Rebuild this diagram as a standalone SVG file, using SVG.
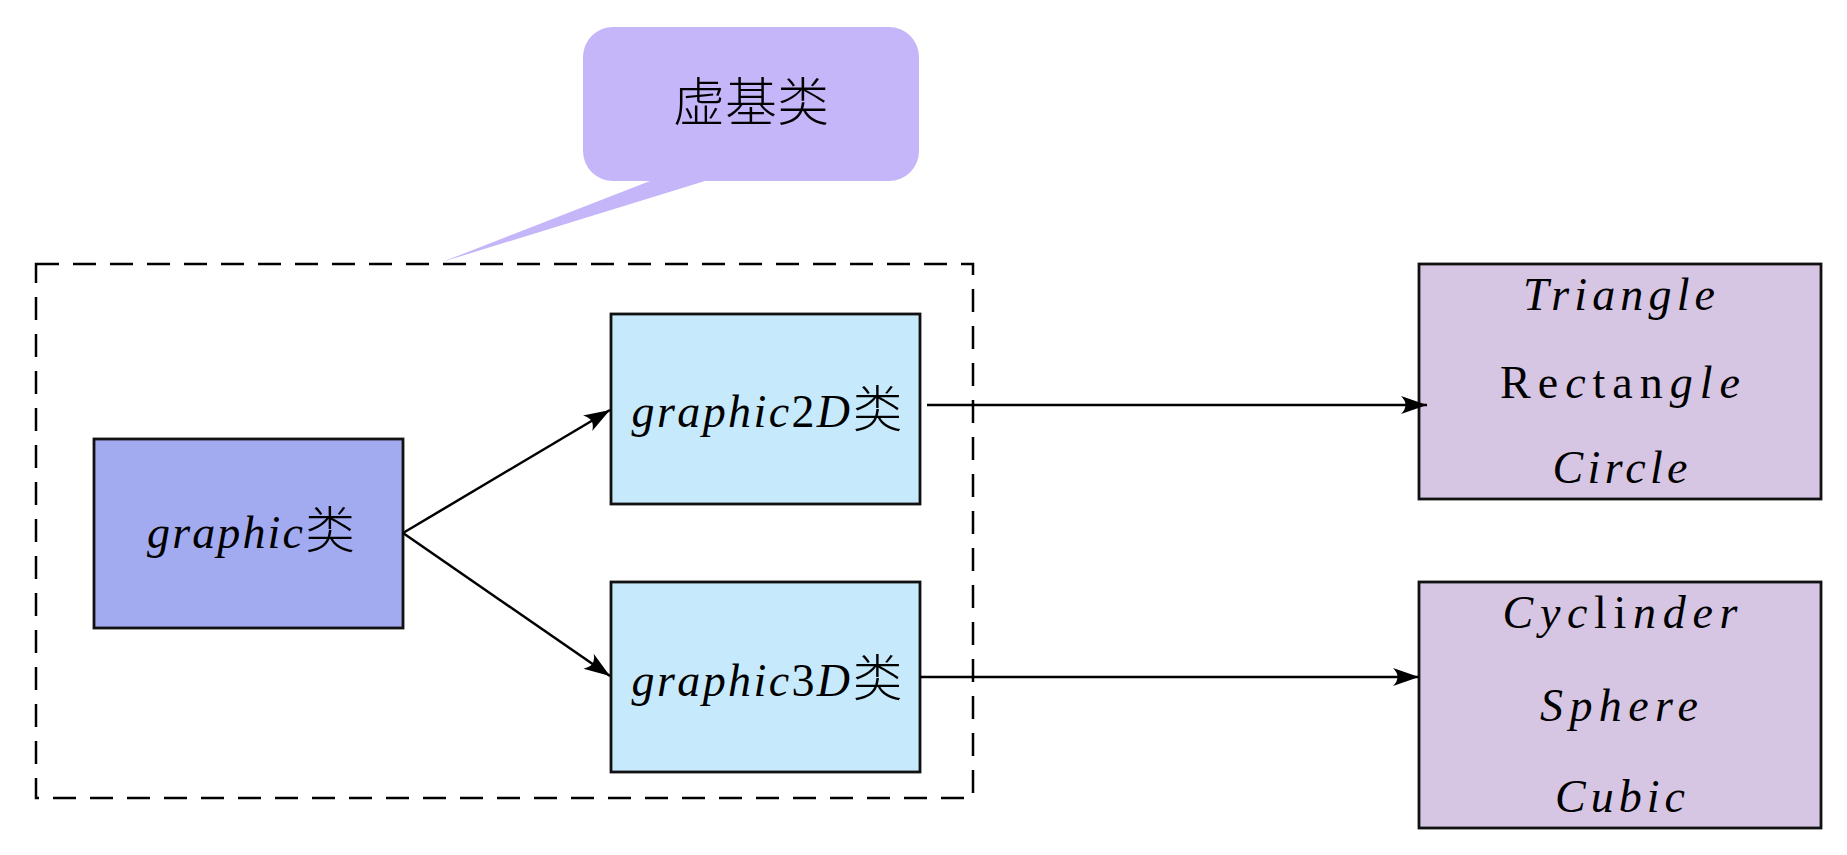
<svg xmlns="http://www.w3.org/2000/svg" width="1847" height="855" viewBox="0 0 1847 855">
<style>
.box{stroke:#111;stroke-width:2.8}
.t{font-family:"Liberation Serif","DejaVu Serif","Noto Sans CJK SC",serif;font-size:46px;fill:#000;text-anchor:middle}
.i{font-style:italic}
.n{font-style:normal}
.cjk{font-family:"Noto Sans CJK SC",sans-serif;font-style:normal;font-weight:300;font-size:50px}
.conn{stroke:#000;stroke-width:2.5;fill:none}
</style>
<defs>
<marker id="ah" markerWidth="30" markerHeight="22" viewBox="-28 -11 30 22" refX="0" refY="0" orient="auto" markerUnits="userSpaceOnUse">
<path d="M0,0 L-26,-9 Q-17,0 -26,9 Z" fill="#000"/>
</marker>
</defs>
<rect width="1847" height="855" fill="#fff"/>
<g id="callout">
<path d="M650,181 L442,262 L705,181 Z" fill="#c5b5f9"/>
<rect x="583" y="27" width="336" height="154" rx="30" ry="30" fill="#c5b5f9"/>
<text x="751" y="121" style="font-family:'Noto Sans CJK SC',sans-serif;font-size:52px;font-weight:300;text-anchor:middle">虚基类</text>
</g>
<g id="container">
<rect x="36" y="264" width="937" height="534" fill="none" stroke="#000" stroke-width="2.5" stroke-dasharray="23 14"/>
</g>
<g id="graphic">
<rect class="box" x="94" y="439" width="309" height="189" fill="#a3abf0"/>
<text class="t" x="251" y="548" textLength="208" lengthAdjust="spacing"><tspan class="i">graphic</tspan><tspan class="cjk">类</tspan></text>
</g>
<g id="graphic2D">
<rect class="box" x="611" y="314" width="309" height="190" fill="#c6eafc"/>
<text class="t" x="767" y="427" textLength="271" lengthAdjust="spacing"><tspan class="i">graphic</tspan><tspan class="n">2</tspan><tspan class="i">D</tspan><tspan class="cjk">类</tspan></text>
</g>
<g id="graphic3D">
<rect class="box" x="611" y="582" width="309" height="190" fill="#c6eafc"/>
<text class="t" x="767" y="696" textLength="271" lengthAdjust="spacing"><tspan class="i">graphic</tspan><tspan class="n">3</tspan><tspan class="i">D</tspan><tspan class="cjk">类</tspan></text>
</g>
<g id="shapes2D">
<rect class="box" x="1419" y="264" width="402" height="235" fill="#d6c6e4"/>
<text class="t" x="1619" y="310" textLength="192" lengthAdjust="spacing"><tspan class="i">Triangle</tspan></text>
<text class="t" x="1620" y="398" textLength="240" lengthAdjust="spacing"><tspan class="n">Re</tspan><tspan class="i">c</tspan><tspan class="n">tan</tspan><tspan class="i">gle</tspan></text>
<text class="t" x="1620" y="483" textLength="135" lengthAdjust="spacing"><tspan class="i">Circle</tspan></text>
</g>
<g id="shapes3D">
<rect class="box" x="1419" y="582" width="402" height="246" fill="#d6c6e4"/>
<text class="t" x="1620" y="628" textLength="235" lengthAdjust="spacing"><tspan class="i">Cyc</tspan><tspan class="n">li</tspan><tspan class="i">nder</tspan></text>
<text class="t" x="1619" y="721" textLength="158" lengthAdjust="spacing"><tspan class="i">Sphere</tspan></text>
<text class="t" x="1620" y="812" textLength="130" lengthAdjust="spacing"><tspan class="i">Cubic</tspan></text>
</g>
<g id="connectors">
<line class="conn" x1="403" y1="533" x2="610" y2="410" marker-end="url(#ah)"/>
<line class="conn" x1="403" y1="533" x2="610" y2="676" marker-end="url(#ah)"/>
<line class="conn" x1="927" y1="405" x2="1427" y2="405" marker-end="url(#ah)"/>
<line class="conn" x1="920" y1="677" x2="1419" y2="677" marker-end="url(#ah)"/>
</g>
</svg>
